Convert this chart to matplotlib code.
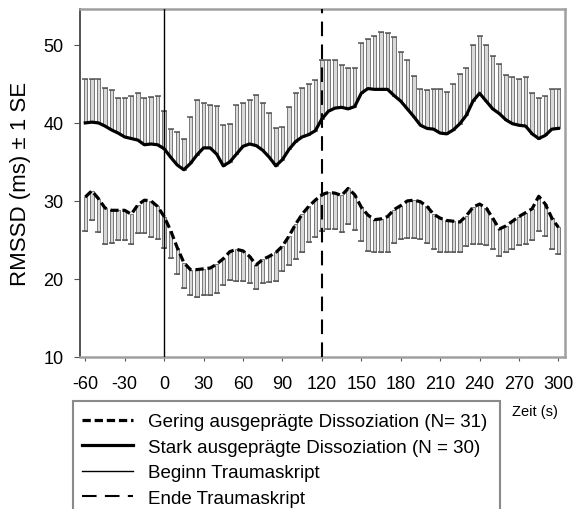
import numpy as np
import matplotlib
matplotlib.use("Agg")
import matplotlib.pyplot as plt
from matplotlib.patches import Rectangle

plt.rcParams['font.family'] = ['Liberation Sans', 'DejaVu Sans']
plt.rcParams['axes.unicode_minus'] = False

# time axis in seconds, one value every 5 s
zeit = np.arange(-60, 301, 5)

# stark ausgepraegte Dissoziation: mean and mean + 1 SE
stark_mean = [40.0, 40.1, 40.0, 39.6, 39.1, 38.7, 38.2, 38.0, 37.8, 37.2, 37.3, 37.2, 36.7,
              35.6, 34.6, 34.0, 34.8, 35.9, 36.8, 36.8, 36.0, 34.5, 35.0, 36.0, 37.0, 37.3,
              37.1, 36.5, 35.6, 34.5, 35.3, 36.6, 37.6, 38.2, 38.5, 39.0,
              40.5, 41.5, 41.9, 42.0, 41.8, 42.1, 43.8, 44.4, 44.3, 44.3, 44.3, 43.5, 42.8,
              41.8, 40.8, 39.7, 39.3, 39.2, 38.7, 38.6, 39.1, 39.9, 41.0, 42.8, 43.8, 42.8,
              41.8, 41.2, 40.4, 39.9, 39.7, 39.6, 38.6, 38.0, 38.4, 39.2, 39.3]
stark_oben = [45.6, 45.6, 45.6, 44.5, 44.2, 43.2, 43.2, 43.5, 43.8, 43.2, 43.3, 43.4, 41.5,
              39.2, 38.8, 38.0, 40.8, 42.9, 42.5, 42.3, 42.2, 39.7, 39.8, 42.3, 42.5, 43.0,
              43.6, 42.6, 41.3, 39.3, 39.5, 42.0, 43.8, 44.5, 45.0, 45.5,
              48.0, 48.0, 48.0, 47.4, 47.0, 47.1, 50.3, 50.8, 51.2, 51.6, 51.5, 51.0, 49.1,
              48.0, 46.0, 44.3, 44.2, 44.4, 44.4, 44.0, 45.0, 46.3, 47.0, 50.0, 51.2, 50.0,
              48.6, 47.5, 46.1, 45.9, 45.6, 45.9, 43.8, 43.2, 43.5, 44.3, 44.4]

# gering ausgepraegte Dissoziation: mean and mean - 1 SE
gering_mean = [30.5, 31.3, 30.3, 29.1, 28.8, 28.8, 28.8, 28.3, 29.5, 30.1, 30.0, 29.3, 28.0,
               26.2, 24.0, 22.1, 21.2, 21.2, 21.3, 21.4, 21.9, 22.6, 23.5, 23.8, 23.6, 22.9,
               21.8, 22.5, 22.9, 23.4, 24.2, 25.5, 27.0, 28.3, 29.3, 30.1,
               30.8, 31.1, 31.0, 30.7, 31.6, 30.8, 29.2, 28.2, 27.6, 27.7, 28.0, 28.9, 29.4,
               30.0, 30.1, 29.9, 29.3, 28.3, 27.8, 27.5, 27.4, 27.3, 28.1, 29.2, 29.6, 29.1,
               27.8, 26.4, 26.8, 27.4, 28.0, 28.5, 29.0, 30.6, 29.6, 27.8, 26.6]
gering_unten = [26.2, 27.6, 26.0, 24.5, 24.6, 25.0, 25.0, 24.5, 25.9, 25.9, 25.4, 25.1, 24.0,
                22.7, 20.6, 18.8, 17.9, 17.7, 17.9, 17.9, 18.2, 19.2, 19.9, 19.8, 19.8, 19.5,
                18.7, 19.5, 19.6, 19.8, 21.0, 21.8, 22.5, 23.5, 24.7, 25.4,
                26.2, 26.4, 26.4, 26.0, 27.0, 26.3, 24.9, 23.6, 23.4, 23.4, 23.5, 24.6, 25.1,
                25.2, 25.2, 25.1, 24.6, 23.8, 23.5, 23.5, 23.5, 23.5, 24.2, 24.5, 24.5, 24.3,
                23.8, 23.0, 23.4, 23.8, 24.3, 24.5, 25.0, 26.2, 25.5, 23.8, 23.2]

xticks = [-60, -30, 0, 30, 60, 90, 120, 150, 180, 210, 240, 270, 300]
yticks = [10, 20, 30, 40, 50]

stark_mean = np.array(stark_mean)
gering_mean = np.array(gering_mean)
stark_oben = np.array(stark_oben)
gering_unten = np.array(gering_unten)

fig = plt.figure(figsize=(5.76, 5.10), dpi=100)
ax = fig.add_axes([80/576, 1-358/510, (565-80)/576, (358-10)/510])

# SE bars (upwards for stark, downwards for gering)
bw = 2.6
ax.bar(zeit, stark_oben - stark_mean, bottom=stark_mean, width=bw,
       facecolor='#d9d9d9', edgecolor='#666666', linewidth=0.6, zorder=1)
ax.bar(zeit, gering_unten - gering_mean, bottom=gering_mean, width=bw,
       facecolor='#d9d9d9', edgecolor='#666666', linewidth=0.6, zorder=1)
ax.hlines(stark_oben, zeit - 2.3, zeit + 2.3, color='#555555', lw=1.1, zorder=2)
ax.hlines(gering_unten, zeit - 2.3, zeit + 2.3, color='#555555', lw=1.1, zorder=2)

l_gering, = ax.plot(zeit, gering_mean, color='black', lw=2.3, ls=(0, (2.6, 1.2)),
                    zorder=3, label='Gering ausgeprägte Dissoziation (N= 31)')
l_stark, = ax.plot(zeit, stark_mean, color='black', lw=2.3, zorder=3,
                   label='Stark ausgeprägte Dissoziation (N = 30)')
l_beginn = ax.axvline(0, color='black', lw=1.0, zorder=4, label='Beginn Traumaskript')
l_ende = ax.axvline(120, color='black', lw=1.5, ls=(0, (7, 4)), zorder=4,
                    label='Ende Traumaskript')

ax.set_xlim(-64, 305)
ax.set_ylim(10, 54.6)
ax.set_xticks(xticks)
ax.set_xticklabels([str(t) for t in xticks])
ax.set_yticks(yticks)
ax.tick_params(axis='both', direction='out', labelsize=13, color='#555555')
ax.tick_params(axis='x', length=3, pad=10)
ax.tick_params(axis='y', length=4, pad=8)
ax.set_ylabel('RMSSD (ms) ± 1 SE', fontsize=16, labelpad=9)

ax.spines['left'].set_color('#444444')
ax.spines['left'].set_linewidth(1.3)
for s in ['top', 'right', 'bottom']:
    ax.spines[s].set_color('#a0a0a0')
    ax.spines[s].set_linewidth(1.8)

fig.text(512/576, 1-412/510, 'Zeit (s)', fontsize=10.5, va='center', ha='left')

fig.legend(handles=[l_gering, l_stark, l_beginn, l_ende], loc='upper left',
           bbox_to_anchor=(82/576, 1-414/510), frameon=False, fontsize=13.5,
           borderpad=0, borderaxespad=0, handlelength=2.7, handletextpad=0.8,
           labelspacing=0.45)
fig.add_artist(Rectangle((73/576, -0.05), (500-73)/576, 0.05 + 1-402/510,
                         transform=fig.transFigure, fill=False,
                         edgecolor='#8a8a8a', linewidth=1.5))

plt.savefig('out.png', dpi=100)
